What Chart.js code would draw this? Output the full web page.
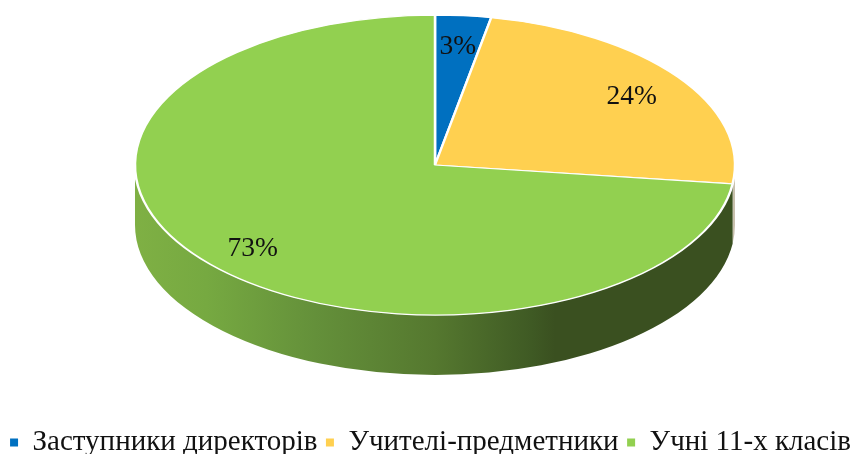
<!DOCTYPE html>
<html><head><meta charset="utf-8">
<style>html,body{margin:0;padding:0;background:#fff}#wrap{width:858px;height:454px}</style>
<script src="https://cdn.jsdelivr.net/npm/chart.js@4"></script>
</head><body><div id="wrap"><canvas id="c" width="858" height="454"></canvas></div>
<script>
const categories = ["Заступники директорів", "Учителі-предметники", "Учні 11-х класів"];
const seriesValues = [3, 24, 73];
const sliceColors = ["#0070c0", "#ffd050", "#92d050"];

const RADIUS = 300, TILT = 0.5, DEPTH = 60, CENTER_X = 435, CENTER_Y = 165;
const wallStops = [
  [0, "#7fb044"], [0.12, "#76a941"], [0.3, "#64903a"], [0.5, "#55782f"],
  [0.66, "#3f5a24"], [0.7, "#3a5020"], [1, "#3a5020"]
];
const wallColors = [null, "#c9c1ae", null];

const pie3d = {
  id: "pie3d",
  beforeDatasetsDraw(chart) {
    const arcs = chart.getDatasetMeta(0).data;
    if (!arcs.length) return;
    const ctx = chart.ctx, cx = CENTER_X, cy = arcs[0].y;
    ctx.save();
    arcs.forEach((el, i) => {
      const s = Math.max(el.startAngle, 0), e = Math.min(el.endAngle, Math.PI);
      if (e <= s) return;
      ctx.beginPath();
      ctx.ellipse(cx, CENTER_Y, RADIUS, RADIUS * TILT, 0, s, e);
      ctx.ellipse(cx, CENTER_Y + DEPTH, RADIUS, RADIUS * TILT, 0, e, s, true);
      ctx.closePath();
      if (wallColors[i]) {
        ctx.fillStyle = wallColors[i];
      } else {
        const g = ctx.createLinearGradient(cx - RADIUS, 0, cx + RADIUS, 0);
        wallStops.forEach(st => g.addColorStop(st[0], st[1]));
        ctx.fillStyle = g;
      }
      ctx.fill();
    });
    ctx.restore();
    ctx.save();
    ctx.translate(CENTER_X - arcs[0].x, CENTER_Y - cy * TILT);
    ctx.scale(1, TILT);
  },
  afterDatasetsDraw(chart) {
    const arcs = chart.getDatasetMeta(0).data;
    if (!arcs.length) return;
    const ctx = chart.ctx;
    ctx.restore();
    ctx.save();
    ctx.font = "27.5px 'Liberation Serif'";
    ctx.fillStyle = "#111";
    ctx.textAlign = "center";
    ctx.textBaseline = "middle";
    arcs.forEach((el, i) => {
      const m = (el.startAngle + el.endAngle) / 2;
      const x = CENTER_X + Math.cos(m) * RADIUS * 0.81;
      const y = CENTER_Y + Math.sin(m) * RADIUS * 0.81 * TILT + 3;
      ctx.fillText(seriesValues[i] + "%", x, y);
    });
    ctx.restore();
  }
};

new Chart(document.getElementById("c"), {
  type: "pie",
  data: {
    labels: categories,
    datasets: [{
      data: seriesValues,
      backgroundColor: sliceColors,
      borderColor: "#ffffff",
      borderWidth: 2.5,
      borderAlign: "center",
      radius: RADIUS,
      hoverOffset: 0
    }]
  },
  plugins: [pie3d],
  options: {
    responsive: false,
    animation: false,
    layout: { padding: { left: 1.5, right: -1.5, top: 0, bottom: -13 } },
    plugins: {
      tooltip: { enabled: false },
      legend: {
        position: "bottom",
        labels: {
          boxWidth: 8, boxHeight: 8, padding: 8.5, color: "#111",
          font: { family: "'Liberation Serif'", size: 29 },
          generateLabels(chart) {
            return Chart.overrides.pie.plugins.legend.labels.generateLabels(chart)
              .map(item => Object.assign(item, { lineWidth: 0 }));
          }
        }
      }
    }
  }
});
</script></body></html>
